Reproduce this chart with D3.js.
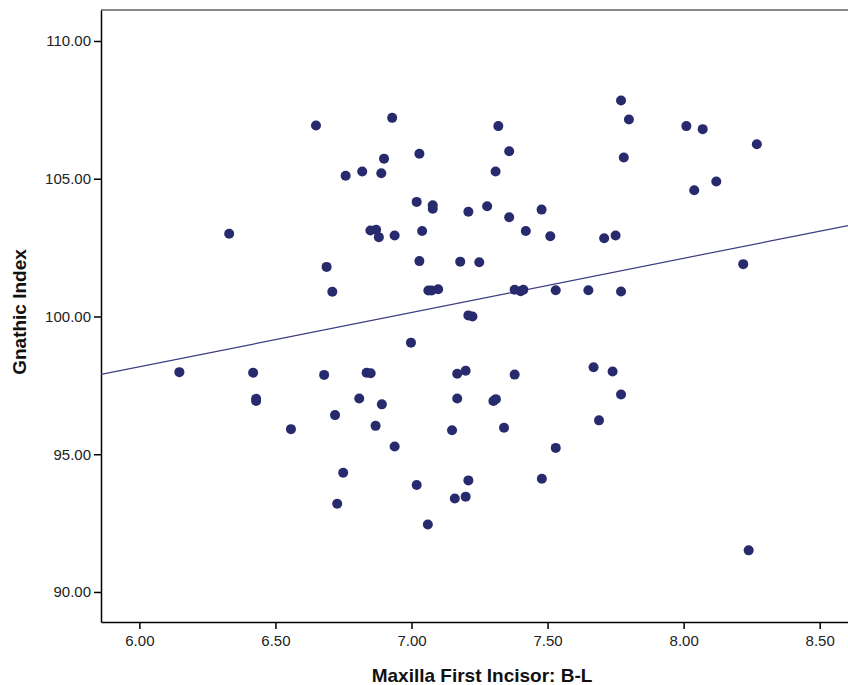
<!DOCTYPE html>
<html>
<head>
<meta charset="utf-8">
<script src="https://cdn.jsdelivr.net/npm/d3@7"></script>
<style>
  body { margin: 0; background: #fff; }
  text { font-family: "Liberation Sans", Arial, sans-serif; }
</style>
</head>
<body>
<div id="chart"></div>
<script>
// Maxilla First Incisor B-L (x) vs Gnathic Index (y)
const incisorBL = [
  6.649, 6.929, 7.319, 7.770, 7.799, 8.010, 8.070, 8.269, 7.029, 7.359,
  6.899, 7.780, 6.758, 6.819, 6.889, 7.309, 8.039, 8.120, 7.019, 7.078,
  7.078, 7.209, 7.278, 7.359, 7.478, 6.330, 6.849, 6.870, 6.880, 6.938,
  7.039, 7.420, 7.510, 7.708, 7.750, 6.688, 7.029, 7.179, 7.249, 8.219,
  6.709, 7.062, 7.074, 7.098, 7.379, 7.401, 7.411, 7.530, 7.650, 7.770,
  7.209, 7.224, 6.147, 6.418, 6.429, 6.429, 6.679, 6.835, 6.850, 6.998,
  7.168, 7.199, 7.379, 7.669, 7.739, 7.168, 6.808, 6.891, 7.301, 7.310,
  7.770, 6.719, 7.340, 6.557, 6.868, 7.149, 7.689, 6.938, 7.530, 6.749,
  7.019, 7.209, 7.479, 7.159, 7.199, 6.727, 7.060, 8.239
];
const gnathicIndex = [
  106.93, 107.21, 106.91, 107.84, 107.15, 106.91, 106.80, 106.25, 105.91, 106.00,
  105.73, 105.77, 105.11, 105.26, 105.20, 105.26, 104.58, 104.90, 104.16, 104.04,
  103.91, 103.80, 104.00, 103.60, 103.88, 103.00, 103.12, 103.15, 102.88, 102.94,
  103.10, 103.10, 102.91, 102.84, 102.94, 101.80, 102.01, 101.99, 101.97, 101.90,
  100.90, 100.94, 100.94, 100.99, 100.97, 100.92, 100.97, 100.95, 100.95, 100.91,
  100.04, 100.00, 97.98, 97.96, 97.01, 96.93, 97.88, 97.96, 97.94, 99.05,
  97.92, 98.03, 97.89, 98.16, 98.00, 97.02, 97.02, 96.81, 96.93, 97.00,
  97.17, 96.42, 95.96, 95.91, 96.03, 95.87, 96.23, 95.28, 95.23, 94.33,
  93.88, 94.05, 94.11, 93.39, 93.46, 93.20, 92.45, 91.51
];

// linear fit line
const fitIntercept = 86.36;
const fitSlope = 1.969;

const xTicks = [6.0, 6.5, 7.0, 7.5, 8.0, 8.5];
const yTicks = [90, 95, 100, 105, 110];
const xTitle = 'Maxilla First Incisor: B-L';
const yTitle = 'Gnathic Index';

const W = 848, H = 685;
const plot = { left: 101, right: 848, top: 10, bottom: 622 };
const dotColor = '#282a6e';

const x = d3.scaleLinear().domain([5.859, 8.604]).range([plot.left, plot.right]);
const y = d3.scaleLinear().domain([88.91, 111.125]).range([plot.bottom, plot.top]);

const svg = d3.select('#chart').append('svg')
  .attr('width', W).attr('height', H);

// frame top line (grey)
svg.append('line')
  .attr('x1', plot.left).attr('x2', plot.right)
  .attr('y1', plot.top).attr('y2', plot.top)
  .attr('stroke', '#8a8a8a').attr('stroke-width', 2);

// axes
const xAxis = svg.append('g')
  .attr('transform', `translate(0,${plot.bottom})`)
  .call(d3.axisBottom(x).tickValues(xTicks).tickFormat(d3.format('.2f')).tickSizeInner(7).tickSizeOuter(0).tickPadding(6));
const yAxis = svg.append('g')
  .attr('transform', `translate(${plot.left},0)`)
  .call(d3.axisLeft(y).tickValues(yTicks).tickFormat(d3.format('.2f')).tickSizeInner(7).tickSizeOuter(0).tickPadding(3));

[xAxis, yAxis].forEach(g => {
  g.select('.domain').attr('stroke', '#000').attr('stroke-width', 1.5);
  g.selectAll('.tick line').attr('stroke', '#000').attr('stroke-width', 1.5);
  g.selectAll('.tick text')
    .attr('fill', '#222')
    .style('font-size', '15px')
    .style('font-family', '"Liberation Sans", Arial, sans-serif');
});

// axis titles
svg.append('text')
  .attr('x', 482).attr('y', 682)
  .attr('text-anchor', 'middle')
  .style('font-size', '19px').style('font-weight', 'bold')
  .attr('fill', '#111')
  .text(xTitle);

svg.append('text')
  .attr('transform', 'translate(26,312) rotate(-90)')
  .attr('text-anchor', 'middle')
  .style('font-size', '19px').style('font-weight', 'bold')
  .attr('fill', '#111')
  .text(yTitle);

// clip for fit line
svg.append('clipPath').attr('id', 'clip')
  .append('rect')
  .attr('x', plot.left).attr('y', plot.top)
  .attr('width', plot.right - plot.left).attr('height', plot.bottom - plot.top);

const xd = x.domain();
svg.append('line')
  .attr('clip-path', 'url(#clip)')
  .attr('x1', x(xd[0])).attr('y1', y(fitIntercept + fitSlope * xd[0]))
  .attr('x2', x(xd[1])).attr('y2', y(fitIntercept + fitSlope * xd[1]))
  .attr('stroke', '#3a3c82').attr('stroke-width', 1.2);

// points
const points = incisorBL.map((v, i) => ({ x: v, y: gnathicIndex[i] }));
svg.append('g').selectAll('circle')
  .data(points).enter()
  .append('circle')
  .attr('cx', d => x(d.x))
  .attr('cy', d => y(d.y))
  .attr('r', 5)
  .attr('fill', dotColor);
</script>
</body>
</html>
